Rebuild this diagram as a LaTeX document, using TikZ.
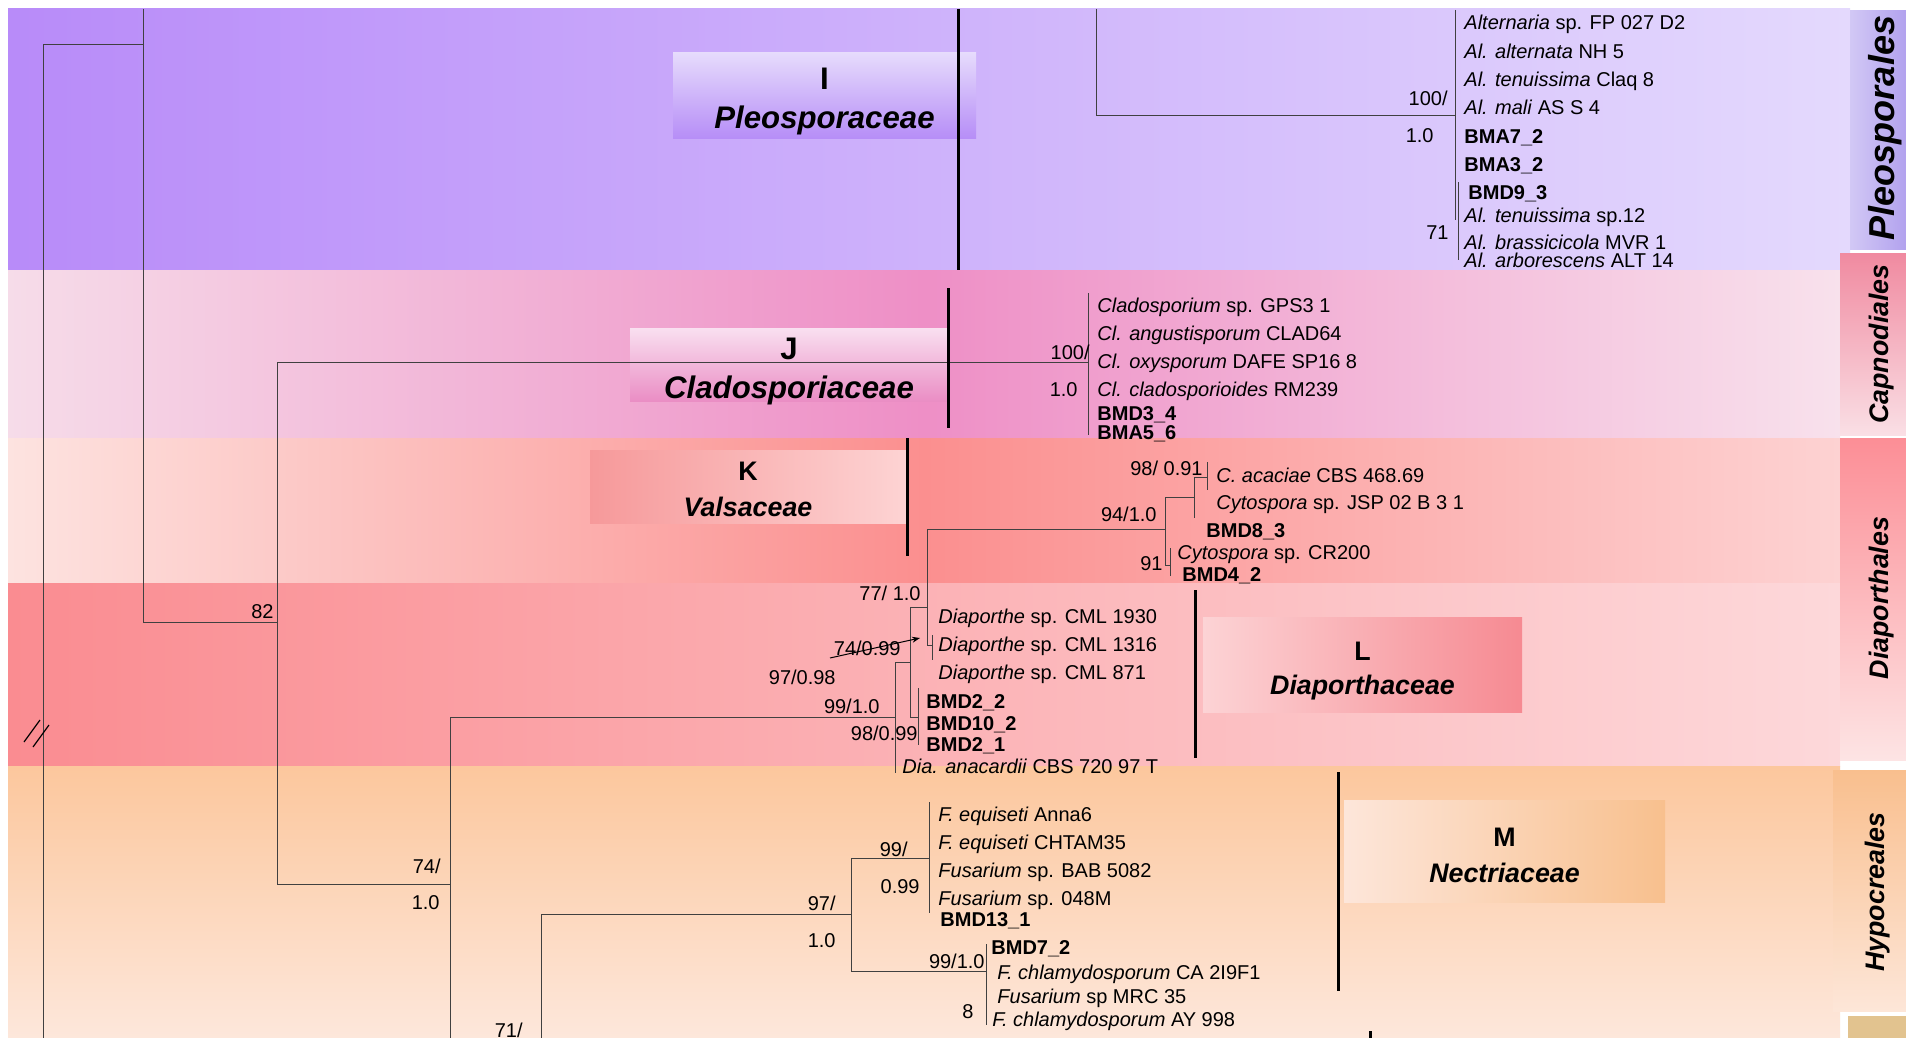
\documentclass[tikz,border=0pt]{standalone}
\usepackage{fontspec}
\setmainfont{Liberation Sans}
\usetikzlibrary{arrows.meta}

\definecolor{pleoL}{HTML}{B88BF9}
\definecolor{pleoR}{HTML}{E4D9FD}
\definecolor{capL}{HTML}{F6DCE9}
\definecolor{capM}{HTML}{EE8FC6}
\definecolor{capR}{HTML}{F8E1EC}
\definecolor{valL}{HTML}{FDE3E0}
\definecolor{valM}{HTML}{FB8F8F}
\definecolor{valR}{HTML}{FDD2D2}
\definecolor{diaL}{HTML}{FA8C91}
\definecolor{diaR}{HTML}{FDD8DA}
\definecolor{hypT}{HTML}{FCC79D}
\definecolor{hypB}{HTML}{FDE7DB}
\definecolor{oPleoL}{HTML}{D2C8F5}
\definecolor{oPleoR}{HTML}{B2A2EE}
\definecolor{oCapT}{HTML}{F08AA0}
\definecolor{oCapB}{HTML}{FADFE5}
\definecolor{oDiaT}{HTML}{FC8E96}
\definecolor{oDiaB}{HTML}{FDE4E4}
\definecolor{oHypT}{HTML}{F9BF8E}
\definecolor{oHypB}{HTML}{FDE6D8}
\definecolor{oTan}{HTML}{E2C38F}
\definecolor{fIt}{HTML}{E6DBFC}
\definecolor{fIb}{HTML}{B68DF7}
\definecolor{fJt}{HTML}{F9DFF0}
\definecolor{fJb}{HTML}{EA8DC4}
\definecolor{fKl}{HTML}{F6999A}
\definecolor{fKr}{HTML}{FDD3D3}
\definecolor{fLl}{HTML}{FCD3D5}
\definecolor{fLr}{HTML}{F68A92}
\definecolor{fMl}{HTML}{FDE6DA}
\definecolor{fMr}{HTML}{F8C08E}

\begin{document}
\begin{tikzpicture}[x=0.5pt, y=-0.5pt,
    branch/.style={draw=black!75, line width=0.5pt},
    cladebar/.style={draw=black, line width=1.5pt},
    tip/.style={anchor=base west, yshift=-3.6pt, inner sep=0pt, font=\fontsize{10}{12}\selectfont},
    iso/.style={tip, font=\fontsize{10}{12}\selectfont\bfseries},
    supp/.style={anchor=base east, yshift=-3.6pt, inner sep=0pt, font=\fontsize{10}{12}\selectfont},
    fambox/.style={inner sep=0pt, draw=none},
    famtxt/.style={anchor=base, inner sep=0pt, font=\fontsize{13.4}{16}\selectfont\bfseries},
    ordtxt/.style={rotate=90, inner sep=0pt, font=\fontsize{13.4}{16}\selectfont\bfseries\itshape}
]
\useasboundingbox (0,0) rectangle (1906,1038);
\fill[white] (0,0) rectangle (1906,1038);

% -------- Bandas de color (ordenes) --------
\shade[left color=pleoL, right color=pleoR] (8,9) rectangle (1850,270);
\shade[left color=capL, right color=capR, middle color=capM] (8,270) rectangle (1840,438);
\shade[left color=valL, right color=valR, middle color=valM] (8,438) rectangle (1840,583);
\shade[left color=diaL, right color=diaR] (8,583) rectangle (1840,766);
\shade[top color=hypT, bottom color=hypB] (8,766) rectangle (1840,1038);

% -------- Etiquetas de orden (columna derecha) --------
\shade[left color=oPleoL, right color=oPleoR] (1850,11) rectangle (1906,249);
\shade[top color=oCapT, bottom color=oCapB] (1840,253) rectangle (1906,435);
\shade[top color=oDiaT, bottom color=oDiaB] (1840,438) rectangle (1906,760);
\shade[top color=oHypT, bottom color=oHypB] (1833,770) rectangle (1906,1011);
\fill[oTan] (1848,1016) rectangle (1906,1038);

\node[ordtxt, font=\fontsize{18}{20}\selectfont\bfseries\itshape] (oPleo) at (1885,128) {Pleosporales};
\node[ordtxt] (oCap) at (1882,344) {Capnodiales};
\node[ordtxt] (oDia) at (1882,598) {Diaporthales};
\node[ordtxt] (oHyp) at (1878,892) {Hypocreales};

% -------- Cajas de familia --------
\node[fambox, minimum width=151.5pt, minimum height=43pt, top color=fIt, bottom color=fIb] (famI) at (824.5,96) {};
\node[fambox, minimum width=159pt, minimum height=36.5pt, top color=fJt, bottom color=fJb] (famJ) at (789,365) {};
\node[fambox, minimum width=158pt, minimum height=36.5pt, left color=fKl, right color=fKr] (famK) at (748,486.5) {};
\node[fambox, minimum width=159.5pt, minimum height=47.5pt, left color=fLl, right color=fLr] (famL) at (1362.5,664.5) {};
\node[fambox, minimum width=160.5pt, minimum height=51pt, left color=fMl, right color=fMr] (famM) at (1504.5,851) {};

\node[famtxt, font=\fontsize{15.6}{18}\selectfont\bfseries] (famIa) at (824.5,90) {I};
\node[famtxt, font=\fontsize{15.6}{18}\selectfont\bfseries\itshape] (famIb) at (824.5,129) {Pleosporaceae};
\node[famtxt, font=\fontsize{15.6}{18}\selectfont\bfseries] (famJa) at (789,359) {J};
\node[famtxt, font=\fontsize{15.6}{18}\selectfont\bfseries\itshape] (famJb) at (789,398) {Cladosporiaceae};
\node[famtxt] (famKa) at (748,480) {K};
\node[famtxt, font=\fontsize{13.4}{16}\selectfont\bfseries\itshape] (famKb) at (748,516) {Valsaceae};
\node[famtxt] (famLa) at (1362.5,660) {L};
\node[famtxt, font=\fontsize{13.4}{16}\selectfont\bfseries\itshape] (famLb) at (1362.5,694) {Diaporthaceae};
\node[famtxt] (famMa) at (1504.5,846) {M};
\node[famtxt, font=\fontsize{13.4}{16}\selectfont\bfseries\itshape] (famMb) at (1504.5,882) {Nectriaceae};

% -------- Nodos del arbol --------
\coordinate (r0) at (43,45);
\coordinate (r1) at (43,1038);
\coordinate (p0) at (143,9);
\coordinate (c82) at (277,622);
\coordinate (c82a) at (277,362);
\coordinate (c82b) at (277,884);
\coordinate (cl) at (1088,362);
\coordinate (cla) at (1088,293);
\coordinate (clb) at (1088,435);
\coordinate (c74) at (450,884);
\coordinate (c74a) at (450,717);
\coordinate (c74b) at (450,1038);
\coordinate (di) at (895,717);
\coordinate (dia) at (895,662);
\coordinate (dib) at (895,773);
\coordinate (dB) at (910,662);
\coordinate (dBa) at (910,607);
\coordinate (dBb) at (910,717);
\coordinate (dC) at (918,717);
\coordinate (dCa) at (918,688);
\coordinate (dCb) at (918,745);
\coordinate (dV) at (927,607);
\coordinate (dVa) at (927,529);
\coordinate (dVb) at (927,645);
\coordinate (dM) at (932,645);
\coordinate (dMa) at (932,635);
\coordinate (dMb) at (932,660);
\coordinate (va) at (1165,529);
\coordinate (vaa) at (1165,497);
\coordinate (vab) at (1165,565);
\coordinate (vC) at (1194,497);
\coordinate (vCa) at (1194,477);
\coordinate (vCb) at (1194,518);
\coordinate (vA) at (1207,477);
\coordinate (vAa) at (1207,462);
\coordinate (vAb) at (1207,490);
\coordinate (v91) at (1170,565);
\coordinate (v91a) at (1170,548);
\coordinate (v91b) at (1170,576);
\coordinate (c71a) at (541,914);
\coordinate (c71b) at (541,1038);
\coordinate (hy) at (851,914);
\coordinate (hya) at (851,858);
\coordinate (hyb) at (851,971);
\coordinate (fu1) at (929,858);
\coordinate (fu1a) at (929,802);
\coordinate (fu1b) at (929,913);
\coordinate (fu2) at (986,971);
\coordinate (fu2a) at (986,944);
\coordinate (fu2b) at (986,1025);
\coordinate (plT) at (1096,9);
\coordinate (pl) at (1096,116);
\coordinate (al) at (1455,116);
\coordinate (ala) at (1455,10);
\coordinate (alb) at (1455,220);
\coordinate (al2a) at (1458,182);
\coordinate (al2b) at (1458,260);

% Ramas
\draw[branch] (r0) -- (r1);
\draw[branch] (r0) -| (p0);
\draw[branch] (p0) |- (c82);
\draw[branch] (c82a) -- (c82b);
\draw[branch] (c82a) -- (cl);
\draw[branch] (cla) -- (clb);
\draw[branch] (c82b) -- (c74);
\draw[branch] (c74a) -- (c74b);
\draw[branch] (c74a) -- (di);
\draw[branch] (dia) -- (dib);
\draw[branch] (dia) -- (dB);
\draw[branch] (dBa) -- (dBb);
\draw[branch] (dBb) -- (dC);
\draw[branch] (dCa) -- (dCb);
\draw[branch] (dBa) -- (dV);
\draw[branch] (dVa) -- (dVb);
\draw[branch] (dVb) -- (dM);
\draw[branch] (dMa) -- (dMb);
\draw[branch] (dVa) -- (va);
\draw[branch] (vaa) -- (vab);
\draw[branch] (vaa) -- (vC);
\draw[branch] (vCa) -- (vCb);
\draw[branch] (vCa) -- (vA);
\draw[branch] (vAa) -- (vAb);
\draw[branch] (vab) -- (v91);
\draw[branch] (v91a) -- (v91b);
\draw[branch] (c71a) -- (c71b);
\draw[branch] (c71a) -- (hy);
\draw[branch] (hya) -- (hyb);
\draw[branch] (hya) -- (fu1);
\draw[branch] (fu1a) -- (fu1b);
\draw[branch] (hyb) -- (fu2);
\draw[branch] (fu2a) -- (fu2b);
\draw[branch] (plT) -- (pl);
\draw[branch] (pl) -- (al);
\draw[branch] (ala) -- (alb);
\draw[branch] (al2a) -- (al2b);

% rama cortada //
\coordinate (cut1a) at (24,742);
\coordinate (cut1b) at (40,720);
\coordinate (cut2a) at (33,747);
\coordinate (cut2b) at (49,725);
\draw[black, line width=0.6pt] (cut1a) -- (cut1b);
\draw[black, line width=0.6pt] (cut2a) -- (cut2b);

% -------- Barras de clado --------
\coordinate (barIa) at (958,9);     \coordinate (barIb) at (958,270);
\coordinate (barJa) at (948,288);   \coordinate (barJb) at (948,428);
\coordinate (barKa) at (907,438);   \coordinate (barKb) at (907,556);
\coordinate (barLa) at (1195,590);  \coordinate (barLb) at (1195,758);
\coordinate (barMa) at (1338,772);  \coordinate (barMb) at (1338,991);
\coordinate (barNa) at (1370,1031); \coordinate (barNb) at (1370,1038);
\draw[cladebar] (barIa) -- (barIb);
\draw[cladebar] (barJa) -- (barJb);
\draw[cladebar] (barKa) -- (barKb);
\draw[cladebar] (barLa) -- (barLb);
\draw[cladebar] (barMa) -- (barMb);
\draw[cladebar] (barNa) -- (barNb);

% -------- Valores de soporte --------
\node[supp] (s82) at (274,611) {82};
\node[supp] (s100c) at (1090,352) {100/};
\node[supp] (s10c) at (1078,389) {1.0};
\node[supp] (s74) at (441,866) {74/};
\node[supp] (s10a) at (440,902) {1.0};
\node[supp] (s71) at (523,1030) {71/};
\node[supp] (s9798) at (836,677) {97/0.98};
\node[supp] (s9910) at (880,706) {99/1.0};
\node[supp] (s9899) at (918,733) {98/0.99};
\node[supp] (s7710) at (921,593) {77/ 1.0};
\node[supp] (s7499) at (901,648) {74/0.99};
\node[supp] (s9410) at (1157,514) {94/1.0};
\node[supp] (s9891) at (1203,468) {98/ 0.91};
\node[supp] (s91) at (1163,563) {91};
\node[supp] (s99f) at (908,849) {99/};
\node[supp] (s099f) at (920,886) {0.99};
\node[supp] (s97h) at (836,903) {97/};
\node[supp] (s10h) at (836,940) {1.0};
\node[supp] (s9910f) at (985,961) {99/1.0};
\node[supp] (s8) at (974,1011) {8};
\node[supp] (s100p) at (1448,98) {100/};
\node[supp] (s10p) at (1434,135) {1.0};
\node[supp] (s71p) at (1449,232) {71};

% valor tachado con flecha
\coordinate (strkA) at (830,658);
\coordinate (strkB) at (920,638);
\draw[black, line width=0.5pt, -{Stealth[length=4pt, width=3pt]}] (strkA) -- (strkB);

% -------- Terminales: Pleosporaceae --------
\node[tip] (tp1) at (1464,22) {\textit{Alternaria} sp. FP 027 D2};
\node[tip] (tp2) at (1464,51) {\textit{Al. alternata} NH 5};
\node[tip] (tp3) at (1464,79) {\textit{Al. tenuissima} Claq 8};
\node[tip] (tp4) at (1464,107) {\textit{Al. mali} AS S 4};
\node[iso] (tp5) at (1464,136) {BMA7\_2};
\node[iso] (tp6) at (1464,164) {BMA3\_2};
\node[iso] (tp7) at (1468,192) {BMD9\_3};
\node[tip] (tp8) at (1464,215) {\textit{Al. tenuissima} sp.12};
\node[tip] (tp9) at (1464,242) {\textit{Al. brassicicola} MVR 1};
\node[tip] (tp10) at (1464,260) {\textit{Al. arborescens} ALT 14};

% -------- Terminales: Cladosporiaceae --------
\node[tip] (tc1) at (1097,305) {\textit{Cladosporium} sp. GPS3 1};
\node[tip] (tc2) at (1097,333) {\textit{Cl. angustisporum} CLAD64};
\node[tip] (tc3) at (1097,361) {\textit{Cl. oxysporum} DAFE SP16 8};
\node[tip] (tc4) at (1097,389) {\textit{Cl. cladosporioides} RM239};
\node[iso] (tc5) at (1097,413) {BMD3\_4};
\node[iso] (tc6) at (1097,432) {BMA5\_6};

% -------- Terminales: Valsaceae --------
\node[tip] (tv1) at (1216,475) {\textit{C. acaciae} CBS 468.69};
\node[tip] (tv2) at (1216,502) {\textit{Cytospora} sp. JSP 02 B 3 1};
\node[iso] (tv3) at (1206,530) {BMD8\_3};
\node[tip] (tv4) at (1177,552) {\textit{Cytospora} sp. CR200};
\node[iso] (tv5) at (1182,574) {BMD4\_2};

% -------- Terminales: Diaporthaceae --------
\node[tip] (td1) at (938,616) {\textit{Diaporthe} sp. CML 1930};
\node[tip] (td2) at (938,644) {\textit{Diaporthe} sp. CML 1316};
\node[tip] (td3) at (938,672) {\textit{Diaporthe} sp. CML 871};
\node[iso] (td4) at (926,701) {BMD2\_2};
\node[iso] (td5) at (926,723) {BMD10\_2};
\node[iso] (td6) at (926,744) {BMD2\_1};
\node[tip] (td7) at (902,766) {\textit{Dia. anacardii} CBS 720 97 T};

% -------- Terminales: Nectriaceae --------
\node[tip] (tf1) at (938,814) {\textit{F. equiseti} Anna6};
\node[tip] (tf2) at (938,842) {\textit{F. equiseti} CHTAM35};
\node[tip] (tf3) at (938,870) {\textit{Fusarium} sp. BAB 5082};
\node[tip] (tf4) at (938,898) {\textit{Fusarium} sp. 048M};
\node[iso] (tf5) at (940,919) {BMD13\_1};
\node[iso] (tf6) at (991,947) {BMD7\_2};
\node[tip] (tf7) at (997,972) {\textit{F. chlamydosporum} CA 2I9F1};
\node[tip] (tf8) at (997,996) {\textit{Fusarium} sp MRC 35};
\node[tip] (tf9) at (992,1019) {\textit{F. chlamydosporum} AY 998};
\end{tikzpicture}
\end{document}
